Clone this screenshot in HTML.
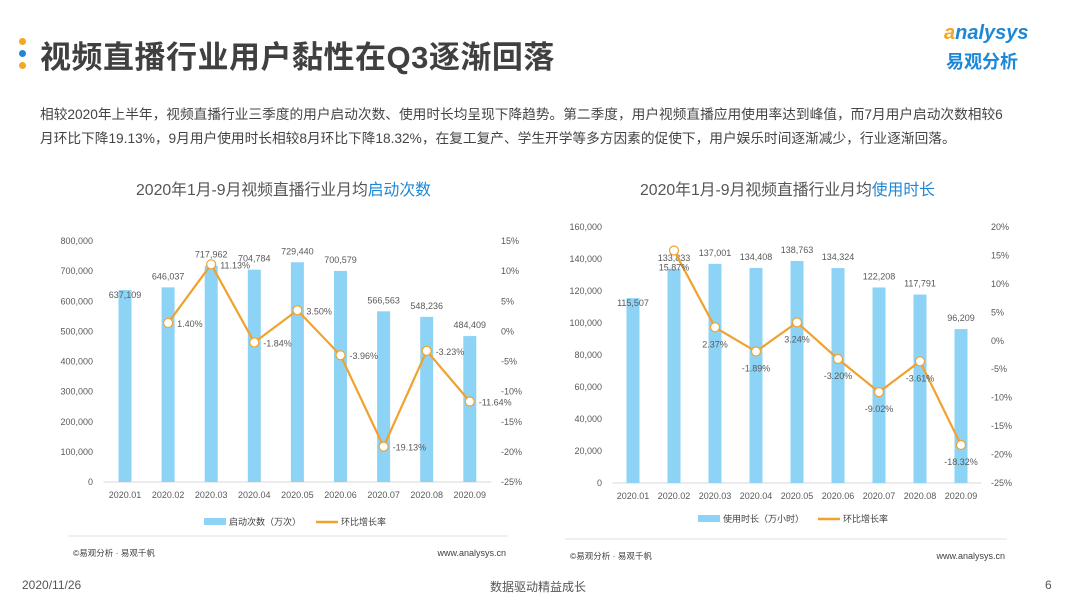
<!DOCTYPE html>
<html><head><meta charset="utf-8">
<style>
body{margin:0;width:1080px;height:608px;background:#fff;overflow:hidden;font-family:"Liberation Sans","Noto Sans CJK SC",sans-serif;position:relative}
.a{position:absolute;white-space:nowrap}
</style></head><body>
<div class="a" style="left:19px;top:38px;width:7px;height:7px;border-radius:50%;background:#f5a623"></div>
<div class="a" style="left:19px;top:50px;width:7px;height:7px;border-radius:50%;background:#1e88d6"></div>
<div class="a" style="left:19px;top:62px;width:7px;height:7px;border-radius:50%;background:#f5a623"></div>
<div class="a" style="left:40px;top:32px;font-size:31px;color:#404040;font-weight:bold;letter-spacing:0.5px">视频直播行业用户黏性在Q3逐渐回落</div>
<div class="a" style="left:944px;top:22px;font-size:20px;color:#1e88d6;font-style:italic;font-weight:bold"><span style="color:#f5a623">a</span>nalysys</div>
<div class="a" style="left:946px;top:48px;font-size:18px;color:#1e88d6;font-weight:bold">易观分析</div>
<div class="a" style="left:40px;top:103px;font-size:13.7px;color:#444">相较2020年上半年，视频直播行业三季度的用户启动次数、使用时长均呈现下降趋势。第二季度，用户视频直播应用使用率达到峰值，而7月用户启动次数相较6</div>
<div class="a" style="left:40px;top:127px;font-size:13.7px;color:#444">月环比下降19.13%，9月用户使用时长相较8月环比下降18.32%，在复工复产、学生开学等多方因素的促使下，用户娱乐时间逐渐减少，行业逐渐回落。</div>
<div class="a" style="left:136px;top:177px;font-size:15.8px;color:#555">2020年1月-9月视频直播行业月均<span style="color:#1e88d6">启动次数</span></div>
<div class="a" style="left:640px;top:177px;font-size:15.8px;color:#555">2020年1月-9月视频直播行业月均<span style="color:#1e88d6">使用时长</span></div>
<svg class="a" id="svg" style="left:0;top:0" width="1080" height="608"></svg>
<div class="a" style="left:22px;top:578px;font-size:12px;color:#555">2020/11/26</div>
<div class="a" style="left:490px;top:578px;font-size:12px;color:#555">数据驱动精益成长</div>
<div class="a" style="left:1045px;top:578px;font-size:12px;color:#555">6</div>
<script>
const categories=["2020.01","2020.02","2020.03","2020.04","2020.05","2020.06","2020.07","2020.08","2020.09"];
const launches=[637109,646037,717962,704784,729440,700579,566563,548236,484409];
const launchGrowth=[null,1.40,11.13,-1.84,3.50,-3.96,-19.13,-3.23,-11.64];
const duration=[115507,133833,137001,134408,138763,134324,122208,117791,96209];
const durationGrowth=[null,15.87,2.37,-1.89,3.24,-3.20,-9.02,-3.61,-18.32];
const leftTicks=[0,100000,200000,300000,400000,500000,600000,700000,800000];
const leftPctTicks=[-25,-20,-15,-10,-5,0,5,10,15];
const rightTicks=[0,20000,40000,60000,80000,100000,120000,140000,160000];
const rightPctTicks=[-25,-20,-15,-10,-5,0,5,10,15,20];
const svg=document.getElementById('svg');
const NS='http://www.w3.org/2000/svg';
function mk(t,a,txt){const e=document.createElementNS(NS,t);for(const k in a)e.setAttribute(k,a[k]);if(txt!=null)e.textContent=txt;svg.appendChild(e);return e;}
const fmt=v=>v.toLocaleString('en-US');
function chart(c){
  const y=v=>c.y0-(v-c.vmin)/(c.vmax-c.vmin)*(c.y0-c.y1);
  const yp=v=>c.y0-(v-c.pmin)/(c.pmax-c.pmin)*(c.y0-c.y1);
  const x=i=>c.x0+i*c.dx;
  let e=mk('line',{x1:c.x0-c.dx/2,x2:x(8)+c.dx/2,y1:c.y0,y2:c.y0,stroke:'#d9d9d9'});
  
  c.ticks.forEach(t=>{e=mk('text',{x:c.lx,y:y(t)+3,'text-anchor':'end','font-size':9,fill:'#595959'},fmt(t));
    });
  c.pticks.forEach(t=>{e=mk('text',{x:c.rx,y:yp(t)+3,'font-size':9,fill:'#595959'},t+'%');
    });
  categories.forEach((cat,i)=>{
    e=mk('rect',{x:x(i)-6.5,y:y(c.vals[i]),width:13,height:c.y0-y(c.vals[i]),fill:'#8dd3f6'});
    
    e=mk('text',{x:x(i),y:y(c.vals[i])-(i==0?-8:8),'text-anchor':'middle','font-size':9,fill:'#595959'},fmt(c.vals[i]));
    
    e=mk('text',{x:x(i),y:c.y0+16,'text-anchor':'middle','font-size':9,fill:'#595959'},cat);
    
  });
  let pts=[];c.g.forEach((g,i)=>{if(g!=null)pts.push([x(i),yp(g),g]);});
  e=mk('polyline',{points:pts.map(p=>p[0]+','+p[1]).join(' '),fill:'none',stroke:'#f0a22e','stroke-width':2.2});
  
  pts.forEach(p=>{e=mk('circle',{cx:p[0],cy:p[1],r:4.5,fill:'#fff',stroke:'#f0a22e','stroke-width':1.2});
    
    const lx=c.below?p[0]:p[0]+9, ly=c.below?p[1]+20:p[1]+4;
    e=mk('text',{x:lx,y:ly,'text-anchor':c.below?'middle':'start','font-size':9,fill:'#595959'},p[2].toFixed(2)+'%');
    });
  e=mk('rect',{x:c.lg,y:c.ly-4,width:22,height:7,fill:'#8dd3f6'});
  e=mk('text',{x:c.lg+25,y:c.ly+3,'font-size':9,fill:'#404040'},c.legend);
  e=mk('line',{x1:c.lg2,x2:c.lg2+22,y1:c.ly,y2:c.ly,stroke:'#f0a22e','stroke-width':2.5});
  e=mk('text',{x:c.lg2+25,y:c.ly+3,'font-size':9,fill:'#404040'},'环比增长率');
  e=mk('line',{x1:c.fx1,x2:c.fx2,y1:c.fy,y2:c.fy,stroke:'#e0e0e0'});
  e=mk('text',{x:c.fx1+5,y:c.fy+20,'font-size':8.5,fill:'#404040'},'©易观分析 · 易观千帆');
  e=mk('text',{x:c.fx2-2,y:c.fy+20,'text-anchor':'end','font-size':9,fill:'#404040'},'www.analysys.cn');
}
chart({id:'launch',vals:launches,g:launchGrowth,ticks:leftTicks,pticks:leftPctTicks,vmin:0,vmax:800000,pmin:-25,pmax:15,y0:482,y1:241,x0:125,dx:43.1,lx:93,rx:501,lg:204,lg2:316,ly:522,legend:'启动次数（万次）',fx1:68,fx2:508,fy:536});
chart({id:'duration',vals:duration,g:durationGrowth,ticks:rightTicks,pticks:rightPctTicks,vmin:0,vmax:160000,pmin:-25,pmax:20,y0:483,y1:227,x0:633,dx:41,lx:602,rx:991,lg:698,lg2:818,ly:519,legend:'使用时长（万小时）',fx1:565,fx2:1007,fy:539,below:true});
</script>
</body></html>
